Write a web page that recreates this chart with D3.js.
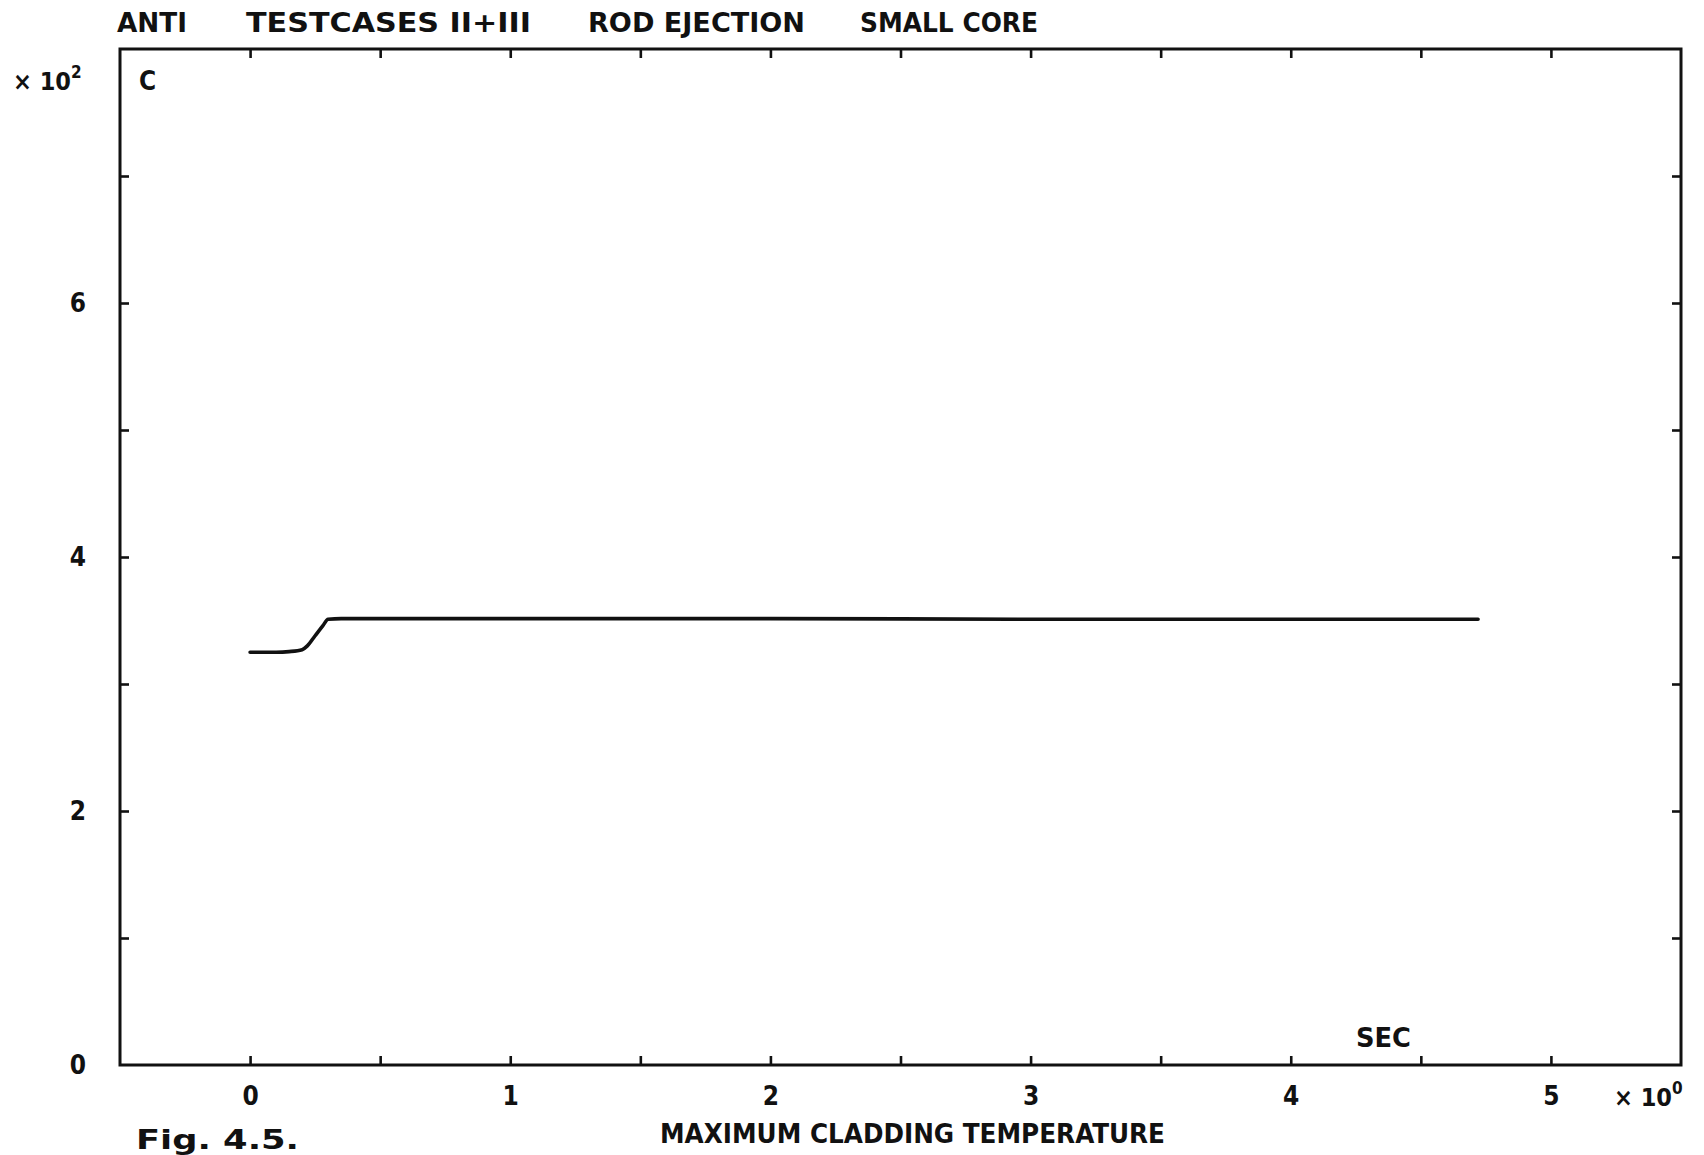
<!DOCTYPE html>
<html>
<head>
<meta charset="utf-8">
<script src="https://cdn.jsdelivr.net/npm/d3@7"></script>
<style>
  html, body { margin: 0; padding: 0; background: #fff; }
  svg { display: block; }
  text { font-family: "DejaVu Sans Condensed", "DejaVu Sans", sans-serif; fill: #111; font-weight: bold; }
</style>
</head>
<body>
<svg id="chart" width="1704" height="1155"></svg>
<script>
// ---- data (time in seconds x10^0, temperature in C x10^2) ----
const timeSec = [0, 0.05, 0.10, 0.15, 0.20, 0.22, 0.25, 0.28, 0.30, 0.35, 0.50, 1.0, 2.0, 3.0, 4.0, 4.72];
const maxCladTemp = [3.25, 3.25, 3.25, 3.255, 3.27, 3.30, 3.38, 3.46, 3.51, 3.515, 3.515, 3.515, 3.515, 3.51, 3.51, 3.51];
const xMajorTicks = [0, 1, 2, 3, 4, 5];
const xMinorTicks = [0, 0.5, 1, 1.5, 2, 2.5, 3, 3.5, 4, 4.5, 5];
const yLabelTicks = [0, 2, 4, 6];
const yMinorTicks = [1, 2, 3, 4, 5, 6, 7];
const titleParts = ["ANTI", "TESTCASES II+III", "ROD EJECTION", "SMALL CORE"];

const svg = d3.select("#chart");
const L = 120, R = 1681, T = 49, B = 1065;

const x = d3.scaleLinear().domain([-0.5, 5.5]).range([L, R]);
const y = d3.scaleLinear().domain([0, 8]).range([B, T]);

const tick = 9;
const axisStyle = g => {
  g.select(".domain").remove();
  g.selectAll("line").attr("stroke", "#111").attr("stroke-width", 2.6);
};

// inward tick marks on all four sides
svg.append("g").attr("transform", `translate(0,${B})`)
  .call(d3.axisBottom(x).tickValues(xMinorTicks).tickSize(-tick).tickFormat(""))
  .call(axisStyle);
svg.append("g").attr("transform", `translate(0,${T})`)
  .call(d3.axisTop(x).tickValues(xMinorTicks).tickSize(-tick).tickFormat(""))
  .call(axisStyle);
svg.append("g").attr("transform", `translate(${L},0)`)
  .call(d3.axisLeft(y).tickValues(yMinorTicks).tickSize(-tick).tickFormat(""))
  .call(axisStyle);
svg.append("g").attr("transform", `translate(${R},0)`)
  .call(d3.axisRight(y).tickValues(yMinorTicks).tickSize(-tick).tickFormat(""))
  .call(axisStyle);

// frame
svg.append("rect").attr("x", L).attr("y", T).attr("width", R - L).attr("height", B - T)
  .attr("fill", "none").attr("stroke", "#111").attr("stroke-width", 3);

const labelFont = "DejaVu Sans Condensed, DejaVu Sans, sans-serif";
// tick labels
const xl = svg.append("g").attr("transform", `translate(0,${B})`)
  .call(d3.axisBottom(x).tickValues(xMajorTicks).tickSize(0).tickPadding(22).tickFormat(d3.format("d")));
xl.select(".domain").remove();
xl.selectAll("text").attr("font-size", 26).attr("font-family", labelFont).attr("font-weight", "bold").attr("fill", "#111");

const yl = svg.append("g").attr("transform", `translate(${L},0)`)
  .call(d3.axisLeft(y).tickValues(yLabelTicks).tickSize(0).tickPadding(34).tickFormat(d3.format("d")));
yl.select(".domain").remove();
yl.selectAll("text").attr("font-size", 26).attr("font-family", labelFont).attr("font-weight", "bold").attr("fill", "#111");

// line
const line = d3.line().x((d, i) => x(timeSec[i])).y(d => y(d)).curve(d3.curveMonotoneX);
svg.append("path").datum(maxCladTemp)
  .attr("d", line).attr("fill", "none").attr("stroke", "#111")
  .attr("stroke-width", 3.6).attr("stroke-linejoin", "round").attr("stroke-linecap", "round");

// title
const titleX = [[117, 187], [246, 531], [588, 805], [860, 1038]];
titleParts.forEach((t, i) => {
  svg.append("text").attr("x", titleX[i][0]).attr("y", 22)
    .attr("dominant-baseline", "central").attr("font-size", 27)
    .attr("textLength", titleX[i][1] - titleX[i][0]).attr("lengthAdjust", "spacingAndGlyphs")
    .text(t);
});

// multiplier labels and annotations
const yMult = svg.append("text").attr("x", 13).attr("y", 81).attr("dominant-baseline", "central").attr("font-size", 25);
yMult.append("tspan").text("× 10");
yMult.append("tspan").attr("dy", -9).attr("font-size", 17).text("2");

svg.append("text").attr("x", 139).attr("y", 81).attr("dominant-baseline", "central").attr("font-size", 26).text("C");

svg.append("text").attr("x", 1356).attr("y", 1038).attr("dominant-baseline", "central").attr("font-size", 26)
  .attr("textLength", 55).attr("lengthAdjust", "spacingAndGlyphs").text("SEC");

const xMult = svg.append("text").attr("x", 1614).attr("y", 1097).attr("dominant-baseline", "central").attr("font-size", 25);
xMult.append("tspan").text("× 10");
xMult.append("tspan").attr("dy", -9).attr("font-size", 17).text("0");

svg.append("text").attr("x", 660).attr("y", 1133).attr("dominant-baseline", "central").attr("font-size", 27)
  .attr("textLength", 505).attr("lengthAdjust", "spacingAndGlyphs").text("MAXIMUM CLADDING TEMPERATURE");

svg.append("text").attr("x", 136).attr("y", 1140).attr("dominant-baseline", "central").attr("font-size", 26)
  .attr("font-family", "Liberation Mono, DejaVu Sans Mono, monospace").attr("font-weight", "bold")
  .attr("textLength", 163).attr("lengthAdjust", "spacingAndGlyphs").text("Fig. 4.5.");
</script>
</body>
</html>
